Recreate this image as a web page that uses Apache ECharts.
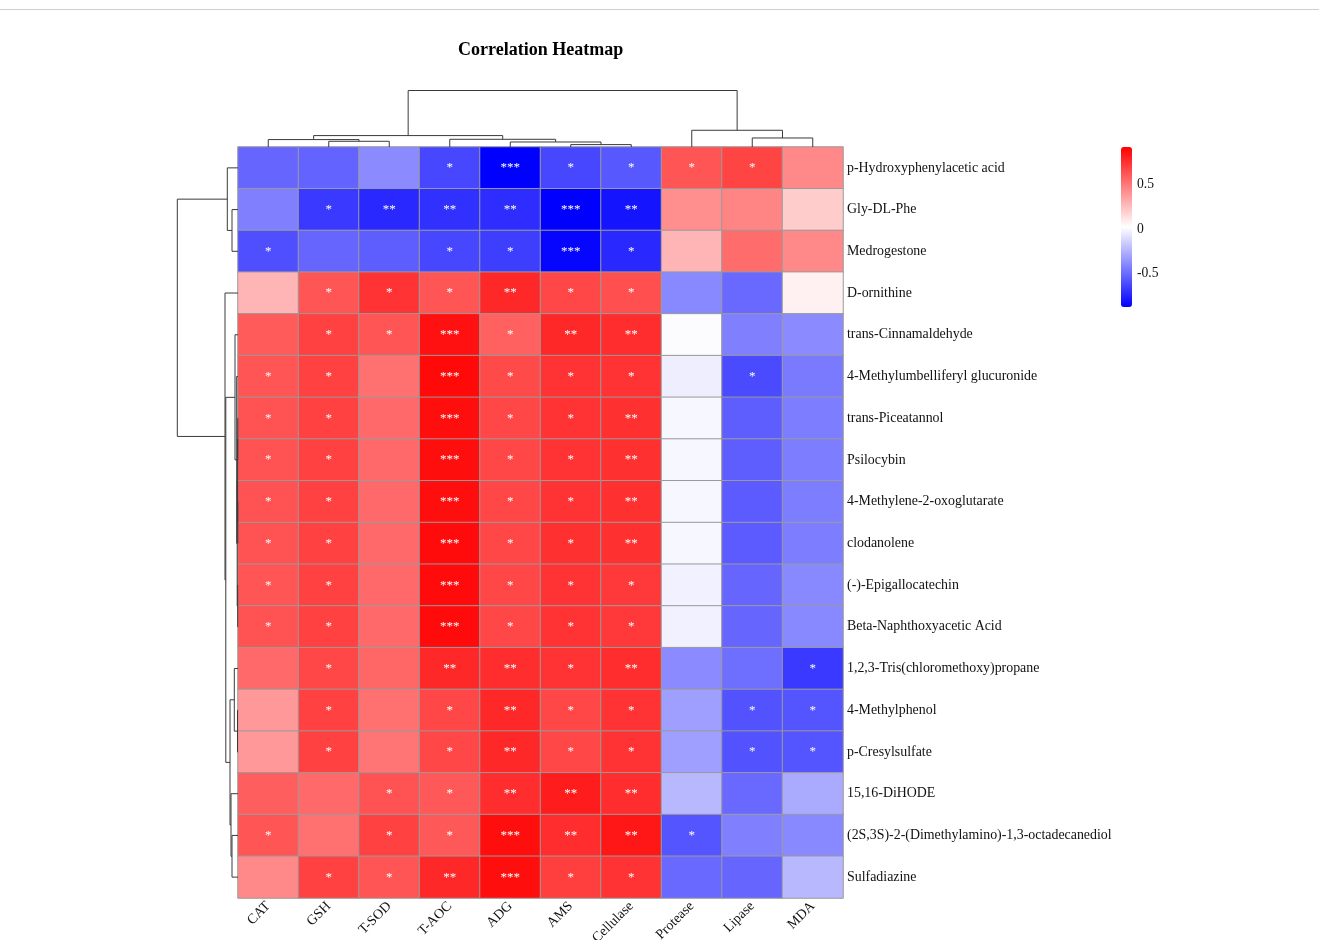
<!DOCTYPE html>
<html>
<head>
<meta charset="utf-8">
<title>Correlation Heatmap</title>
<script src="https://cdn.jsdelivr.net/npm/echarts@6/dist/echarts.min.js"></script>
<style>
  html, body { margin: 0; padding: 0; background: #fff; }
  #frame { position: absolute; z-index: 10; left: 0; top: 9px; width: 1319px; height: 0; border-top: 1px solid #cfcfcf; }
  #chart { width: 1319px; height: 940px; }
</style>
</head>
<body>
<div id="chart"></div>
<div id="frame"></div>
<script>
// Columns (clustered order) and metabolite rows (clustered order)
const columns = ['CAT', 'GSH', 'T-SOD', 'T-AOC', 'ADG', 'AMS', 'Cellulase', 'Protease', 'Lipase', 'MDA'];
const rows = [
  'p-Hydroxyphenylacetic acid', 'Gly-DL-Phe', 'Medrogestone', 'D-ornithine',
  'trans-Cinnamaldehyde', '4-Methylumbelliferyl glucuronide', 'trans-Piceatannol',
  'Psilocybin', '4-Methylene-2-oxoglutarate', 'clodanolene', '(-)-Epigallocatechin',
  'Beta-Naphthoxyacetic Acid', '1,2,3-Tris(chloromethoxy)propane', '4-Methylphenol',
  'p-Cresylsulfate', '15,16-DiHODE', '(2S,3S)-2-(Dimethylamino)-1,3-octadecanediol', 'Sulfadiazine'
];

// Correlation coefficients, one array per column (top row first)
const rCAT       = [-0.54, -0.45, -0.62, 0.26, 0.58, 0.60, 0.61, 0.61, 0.61, 0.61, 0.60, 0.61, 0.53, 0.36, 0.36, 0.57, 0.60, 0.42];
const rGSH       = [-0.55, -0.70, -0.54, 0.60, 0.67, 0.67, 0.67, 0.67, 0.67, 0.67, 0.67, 0.67, 0.65, 0.67, 0.67, 0.53, 0.50, 0.67];
const rTSOD      = [-0.41, -0.76, -0.57, 0.72, 0.60, 0.50, 0.53, 0.53, 0.53, 0.53, 0.53, 0.53, 0.54, 0.50, 0.49, 0.61, 0.67, 0.60];
const rTAOC      = [-0.65, -0.73, -0.65, 0.60, 0.84, 0.87, 0.85, 0.85, 0.85, 0.86, 0.86, 0.86, 0.76, 0.65, 0.65, 0.59, 0.59, 0.76];
const rADG       = [-0.90, -0.74, -0.68, 0.76, 0.56, 0.64, 0.65, 0.65, 0.65, 0.65, 0.65, 0.65, 0.74, 0.76, 0.76, 0.74, 0.85, 0.85];
const rAMS       = [-0.65, -0.90, -0.88, 0.65, 0.76, 0.72, 0.72, 0.72, 0.72, 0.73, 0.72, 0.72, 0.72, 0.65, 0.65, 0.80, 0.74, 0.68];
const rCellulase = [-0.59, -0.83, -0.76, 0.62, 0.74, 0.72, 0.73, 0.73, 0.73, 0.73, 0.70, 0.70, 0.74, 0.72, 0.72, 0.74, 0.82, 0.72];
const rProtease  = [0.60, 0.40, 0.26, -0.42, -0.01, -0.06, -0.03, -0.03, -0.03, -0.03, -0.05, -0.05, -0.41, -0.34, -0.34, -0.25, -0.60, -0.53];
const rLipase    = [0.66, 0.43, 0.52, -0.53, -0.45, -0.64, -0.57, -0.57, -0.58, -0.58, -0.54, -0.54, -0.51, -0.61, -0.61, -0.53, -0.45, -0.54];
const rMDA       = [0.42, 0.18, 0.42, 0.05, -0.41, -0.47, -0.46, -0.46, -0.46, -0.46, -0.42, -0.42, -0.70, -0.60, -0.60, -0.30, -0.42, -0.25];
const corrByColumn = [rCAT, rGSH, rTSOD, rTAOC, rADG, rAMS, rCellulase, rProtease, rLipase, rMDA];

// Significance marks, one array per column
const sCAT       = ['', '', '*', '', '', '*', '*', '*', '*', '*', '*', '*', '', '', '', '', '*', ''];
const sGSH       = ['', '*', '', '*', '*', '*', '*', '*', '*', '*', '*', '*', '*', '*', '*', '', '', '*'];
const sTSOD      = ['', '**', '', '*', '*', '', '', '', '', '', '', '', '', '', '', '*', '*', '*'];
const sTAOC      = ['*', '**', '*', '*', '***', '***', '***', '***', '***', '***', '***', '***', '**', '*', '*', '*', '*', '**'];
const sADG       = ['***', '**', '*', '**', '*', '*', '*', '*', '*', '*', '*', '*', '**', '**', '**', '**', '***', '***'];
const sAMS       = ['*', '***', '***', '*', '**', '*', '*', '*', '*', '*', '*', '*', '*', '*', '*', '**', '**', '*'];
const sCellulase = ['*', '**', '*', '*', '**', '*', '**', '**', '**', '**', '*', '*', '**', '*', '*', '**', '**', '*'];
const sProtease  = ['*', '', '', '', '', '', '', '', '', '', '', '', '', '', '', '', '*', ''];
const sLipase    = ['*', '', '', '', '', '*', '', '', '', '', '', '', '', '*', '*', '', '', ''];
const sMDA       = ['', '', '', '', '', '', '', '', '', '', '', '', '*', '*', '*', '', '', ''];
const starsByColumn = [sCAT, sGSH, sTSOD, sTAOC, sADG, sAMS, sCellulase, sProtease, sLipase, sMDA];

// Colour-bar range and labelled ticks
const colorRange = [-0.9, 0.9];
const colorTicks = [-0.5, 0, 0.5];

// Hierarchical clustering merges: [child A, child B, merge height];
// indices below the leaf count are leaves, larger ones refer to earlier merges.
const columnLinkage = [
  [5, 6, 2.4], [1, 2, 5.7], [4, 10, 5.0], [0, 11, 7.4], [3, 12, 7.7],
  [13, 14, 11.4], [8, 9, 9.0], [7, 16, 16.7], [15, 17, 56.4]
];
const rowLinkage = [
  [6, 7, 0.2], [8, 9, 0.2], [18, 19, 0.4], [10, 11, 0.3], [20, 21, 0.8],
  [5, 22, 1.3], [4, 23, 3.0], [13, 14, 0.5], [12, 25, 3.7], [16, 17, 6.0],
  [15, 27, 7.0], [26, 28, 8.0], [24, 29, 12.2], [3, 30, 13.0], [1, 2, 6.0],
  [0, 32, 10.7], [33, 31, 60.7]
];

// Turn a linkage list into drawable segments [posA, hA, posB, hB, h]
function dendrogramSegments(linkage, nLeaves) {
  const pos = [], height = [];
  for (let i = 0; i < nLeaves; i++) { pos.push(i); height.push(0); }
  const segs = [];
  linkage.forEach(([a, b, h]) => {
    segs.push([pos[a], height[a], pos[b], height[b], h]);
    pos.push((pos[a] + pos[b]) / 2);
    height.push(h);
  });
  return segs;
}
const colSegs = dendrogramSegments(columnLinkage, columns.length);
const rowSegs = dendrogramSegments(rowLinkage, rows.length);
const colMaxH = Math.max(...columnLinkage.map(m => m[2]));
const rowMaxH = Math.max(...rowLinkage.map(m => m[2]));

// Heatmap cells
const cells = [];
corrByColumn.forEach((col, ci) => col.forEach((v, ri) => cells.push([ci, ri, v])));

const serif = 'Liberation Serif, Times New Roman, serif';
const lineColor = '#3a3a3a';
const gridBase = { containLabel: false, outerBoundsMode: 'none' };

const chart = echarts.init(document.getElementById('chart'), null, { renderer: 'canvas' });
chart.setOption({
  backgroundColor: '#ffffff',
  animation: false,
  title: {
    text: 'Correlation Heatmap',
    left: 458, top: 41, padding: 0,
    textStyle: { fontFamily: serif, fontSize: 18, fontWeight: 'bold', color: '#000' }
  },
  grid: [
    Object.assign({ left: 238, top: 147, width: 605, height: 751 }, gridBase),        // heatmap
    Object.assign({ left: 238, top: 90.5, width: 605, height: 56.5 }, gridBase),      // column dendrogram
    Object.assign({ left: 177.3, top: 147, width: 60.7, height: 751 }, gridBase),     // row dendrogram
    Object.assign({ left: 1121, top: 149, width: 11, height: 160 }, gridBase)         // colour-bar labels
  ],
  xAxis: [
    {
      type: 'category', gridIndex: 0, data: columns, position: 'bottom',
      axisLine: { show: false }, axisTick: { show: false }, splitLine: { show: false },
      axisLabel: { rotate: 45, margin: 6, fontFamily: serif, fontSize: 13.9, color: '#111', padding: [0, 0, 0, 0] }
    },
    { type: 'value', gridIndex: 1, min: -0.5, max: columns.length - 0.5, show: false },
    { type: 'value', gridIndex: 2, min: 0, max: rowMaxH, inverse: true, show: false },
    { type: 'value', gridIndex: 3, min: 0, max: 1, show: false }
  ],
  yAxis: [
    {
      type: 'category', gridIndex: 0, data: rows, inverse: true, position: 'right',
      axisLine: { show: false }, axisTick: { show: false }, splitLine: { show: false },
      axisLabel: { margin: 4, fontFamily: serif, fontSize: 13.9, color: '#111' }
    },
    { type: 'value', gridIndex: 1, min: 0, max: colMaxH, show: false },
    { type: 'value', gridIndex: 2, min: -0.5, max: rows.length - 0.5, inverse: true, show: false },
    {
      type: 'value', gridIndex: 3, min: colorRange[0], max: colorRange[1], position: 'right',
      axisLine: { show: false }, axisTick: { show: false }, splitLine: { show: false },
      axisLabel: {
        customValues: colorTicks, margin: 5, fontFamily: serif, fontSize: 13.6, color: '#111',
        formatter: v => String(v)
      }
    }
  ],
  visualMap: {
    type: 'continuous', seriesIndex: 0,
    min: colorRange[0], max: colorRange[1],
    calculable: false, hoverLink: false, realtime: false,
    left: 1121, top: 147, padding: 0,
    itemWidth: 11, itemHeight: 160,
    text: null, showLabel: false,
    inRange: { color: ['#0000ff', '#ffffff', '#ff0000'] }
  },
  series: [
    {
      type: 'heatmap', xAxisIndex: 0, yAxisIndex: 0, data: cells,
      itemStyle: { borderColor: '#9a9a9a', borderWidth: 1 },
      label: {
        show: true, color: '#ffffff', fontFamily: serif, fontSize: 13,
        formatter: p => starsByColumn[p.value[0]][p.value[1]]
      },
      emphasis: { disabled: true }
    },
    {
      type: 'custom', xAxisIndex: 1, yAxisIndex: 1, data: colSegs, silent: true, clip: false,
      renderItem: (params, api) => {
        const pts = [
          api.coord([api.value(0), api.value(1)]),
          api.coord([api.value(0), api.value(4)]),
          api.coord([api.value(2), api.value(4)]),
          api.coord([api.value(2), api.value(3)])
        ];
        return { type: 'polyline', shape: { points: pts }, style: { stroke: lineColor, lineWidth: 1, fill: null } };
      }
    },
    {
      type: 'custom', xAxisIndex: 2, yAxisIndex: 2, data: rowSegs, silent: true, clip: false,
      renderItem: (params, api) => {
        const pts = [
          api.coord([api.value(1), api.value(0)]),
          api.coord([api.value(4), api.value(0)]),
          api.coord([api.value(4), api.value(2)]),
          api.coord([api.value(3), api.value(2)])
        ];
        return { type: 'polyline', shape: { points: pts }, style: { stroke: lineColor, lineWidth: 1, fill: null } };
      }
    },
    { type: 'line', xAxisIndex: 3, yAxisIndex: 3, data: [], silent: true }
  ]
});
</script>
</body>
</html>
